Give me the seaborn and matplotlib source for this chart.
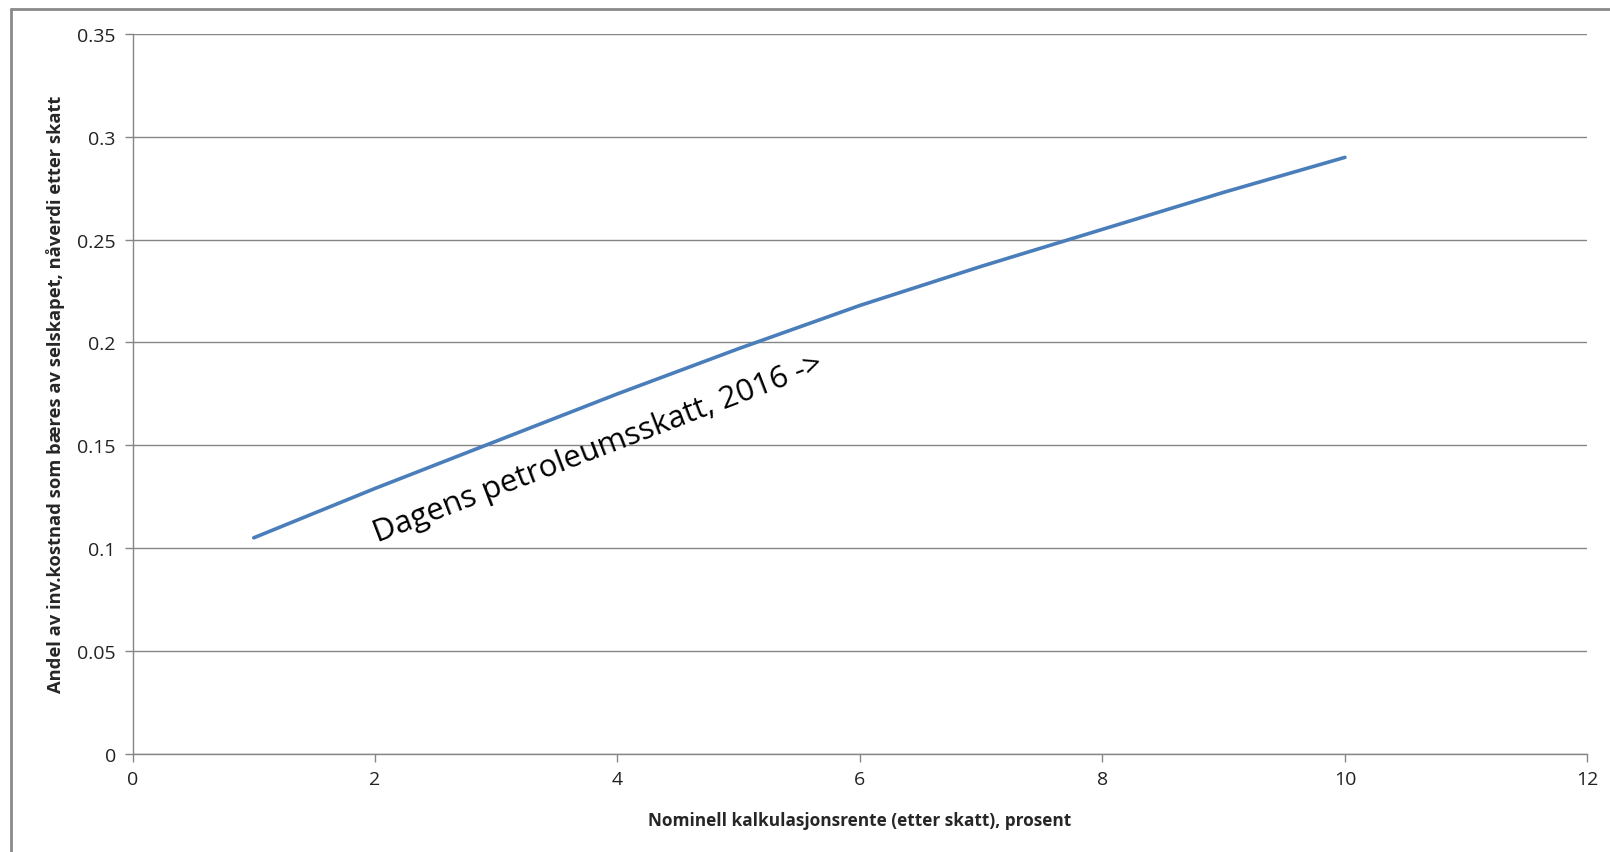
import matplotlib
matplotlib.use("Agg")
import matplotlib.pyplot as plt
import matplotlib.ticker as mticker
from matplotlib.lines import Line2D
import seaborn as sns
import pandas as pd

# data
rente = [1, 2, 3, 4, 5, 6, 7, 8, 9, 10]
andel = [0.105, 0.129, 0.152, 0.175, 0.197, 0.218, 0.237, 0.255, 0.273, 0.290]
x_ticks = [0, 2, 4, 6, 8, 10, 12]
y_ticks = [0, 0.05, 0.1, 0.15, 0.2, 0.25, 0.3, 0.35]

df = pd.DataFrame({"rente": rente, "andel": andel})

sns.set_style("white")
plt.rcParams["font.family"] = ["Open Sans", "DejaVu Sans"]

fig = plt.figure(figsize=(16.1, 8.53), dpi=100)
ax = fig.add_axes([0.0823, 0.1152, 0.9037, 0.8438])

grid_col = "#868686"
sns.lineplot(data=df, x="rente", y="andel", ax=ax, color="#4A7EBB", linewidth=2.6)

ax.set_xlim(0, 12)
ax.set_ylim(0, 0.35)
ax.set_xticks(x_ticks)
ax.set_yticks(y_ticks)
ax.yaxis.set_major_formatter(mticker.FuncFormatter(lambda v, p: f"{v:g}"))
ax.grid(axis="y", color=grid_col, linewidth=1)
ax.set_axisbelow(True)
for s in ["top", "right"]:
    ax.spines[s].set_visible(False)
for s in ["left", "bottom"]:
    ax.spines[s].set_color(grid_col)
    ax.spines[s].set_linewidth(1)
ax.tick_params(axis="both", direction="out", length=6, width=1, color=grid_col,
               labelsize=14, labelcolor="#222222", pad=6, left=True, bottom=True)

ax.set_xlabel("Nominell kalkulasjonsrente (etter skatt), prosent", fontsize=12.4,
              fontweight="bold", labelpad=16)
ax.set_ylabel("Andel av inv.kostnad som bæres av selskapet, nåverdi etter skatt",
              fontsize=13.2, fontweight="bold", labelpad=9)

ax.text(2.02, 0.103, "Dagens petroleumsskatt, 2016 ->", fontsize=22.5,
        rotation=21, rotation_mode="anchor", ha="left", va="baseline", color="black")

# outer chart frame (top and left visible)
fig.add_artist(Line2D([11 / 1610, 11 / 1610], [0, 1 - 10 / 853], transform=fig.transFigure,
                      color="#8a8a8a", linewidth=2))
fig.add_artist(Line2D([11 / 1610, 1], [1 - 10 / 853, 1 - 10 / 853], transform=fig.transFigure,
                      color="#8a8a8a", linewidth=2))

fig.savefig("out.png", dpi=100)
